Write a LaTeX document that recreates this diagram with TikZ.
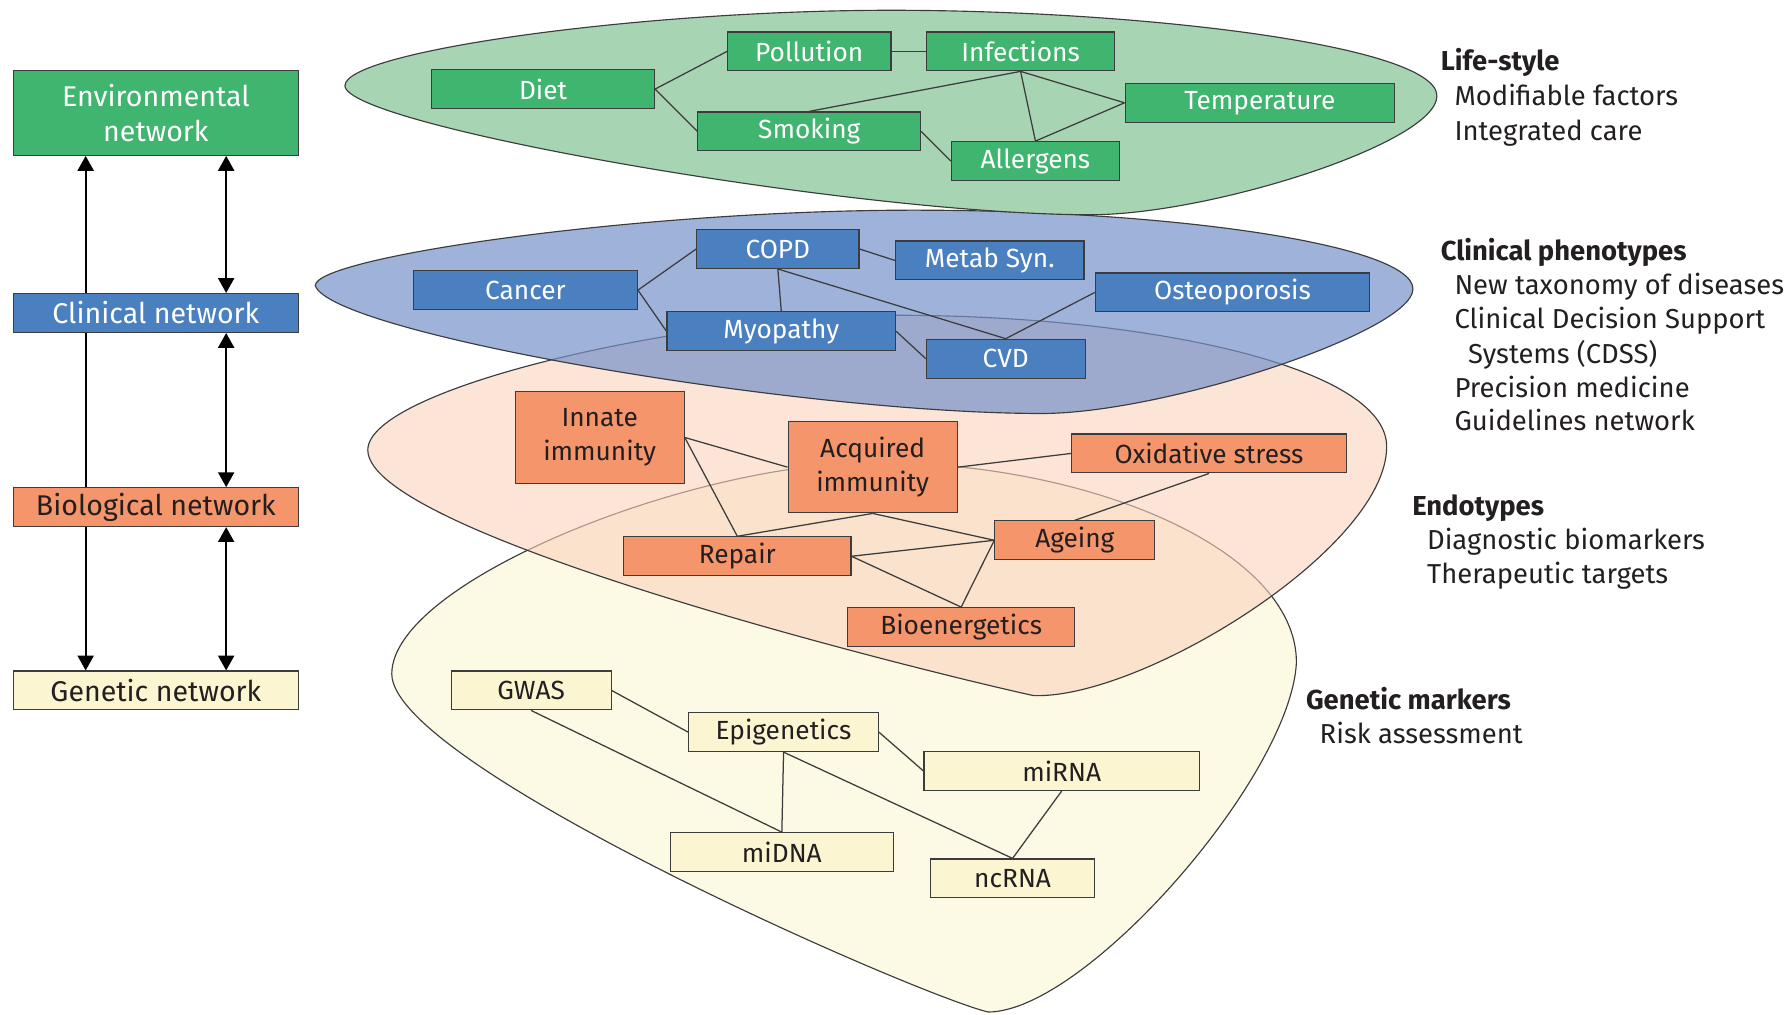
\documentclass[tikz,border=0pt]{standalone}
\usepackage{fontspec}
\setmainfont{Fira Sans}
\usetikzlibrary{arrows.meta,positioning,calc}
\definecolor{envG}{HTML}{3FB56F}
\definecolor{envGl}{HTML}{A7D5B3}
\definecolor{clinB}{HTML}{4A7FC0}
\definecolor{clinBl}{HTML}{7692C9}
\definecolor{bioO}{HTML}{F4956B}
\definecolor{bioOl}{HTML}{FAD4BC}
\definecolor{genY}{HTML}{FBF5D1}
\definecolor{genYl}{HTML}{FCF9E4}
\definecolor{edgeC}{HTML}{3C3C3C}
\definecolor{txtC}{HTML}{231F20}
\tikzset{
  netbox/.style={draw=edgeC,line width=0.5pt,inner sep=0pt,minimum height=17pt,
    font=\fontsize{11.5}{15}\selectfont,align=center},
  gbox/.style={netbox,fill=envG,text=white,minimum width=#1},
  bbox/.style={netbox,fill=clinB,text=white,minimum width=#1},
  obox/.style={netbox,fill=bioO,text=txtC,minimum width=#1},
  ybox/.style={netbox,fill=genY,text=txtC,minimum width=#1},
  layerbox/.style={draw=edgeC,line width=0.5pt,inner sep=0pt,minimum width=124.5pt,
    minimum height=17pt,font=\fontsize{12.5}{15}\selectfont,align=center},
  link/.style={edgeC,line width=0.55pt},
  blob/.style={draw=edgeC,line width=0.5pt},
  oneway/.style={line width=0.9pt,-{Triangle[length=6.5pt,width=7pt]}},
  twoway/.style={line width=0.9pt,{Triangle[length=6.5pt,width=7pt]}-{Triangle[length=6.5pt,width=7pt]}},
  sidetext/.style={anchor=base west,inner sep=0pt,text=txtC,font=\fontsize{12}{15}\selectfont}
}
\begin{document}
\begin{tikzpicture}[x=0.5pt,y=-0.5pt]
\useasboundingbox (0,0) rectangle (1568,888);
% layers
\draw[blob,fill=genYl] (343,590) .. controls (343,510) and (600,407) .. (760,405)
  .. controls (950,403) and (1135,480) .. (1135,580)
  .. controls (1130,680) and (950,886) .. (865,886)
  .. controls (800,870) and (343,670) .. cycle;
\draw[blob,fill=bioOl,fill opacity=0.6] (322,394) .. controls (322,340) and (600,276) .. (784,276)
  .. controls (1000,276) and (1214,320) .. (1214,391)
  .. controls (1214,480) and (1000,612) .. (905,609)
  .. controls (835,594) and (322,470) .. cycle;
\draw[blob,fill=clinBl,fill opacity=0.7] (276,250) .. controls (276,225) and (560,184) .. (800,184)
  .. controls (1030,184) and (1237,215) .. (1237,253)
  .. controls (1237,290) and (1020,362) .. (912,362)
  .. controls (700,362) and (290,292) .. cycle;
\draw[blob,fill=envGl] (302,75) .. controls (302,45) and (560,9) .. (780,9)
  .. controls (1000,9) and (1258,40) .. (1258,84)
  .. controls (1258,125) and (1060,188) .. (955,188)
  .. controls (750,188) and (302,110) .. cycle;
% left column
\node[layerbox,fill=envG,text=white,minimum height=37pt] (env) at (136.5,99) {Environmental\\network};
\node[layerbox,fill=clinB,text=white] (clin) at (136.5,274) {Clinical network};
\node[layerbox,fill=bioO,text=txtC] (bio) at (136.5,444) {Biological network};
\node[layerbox,fill=genY,text=txtC] (gen) at (136.5,604.5) {Genetic network};
\draw[oneway] ([xshift=-30.75pt]clin.north) -- ([xshift=-30.75pt]env.south);
\draw[line width=0.9pt] ([xshift=-30.75pt]clin.south) -- ([xshift=-30.75pt]bio.north);
\draw[oneway] ([xshift=-30.75pt]bio.south) -- ([xshift=-30.75pt]gen.north);
\foreach \a/\b in {env/clin,clin/bio,bio/gen}
  \draw[twoway] ([xshift=30.75pt]\a.south) -- ([xshift=30.75pt]\b.north);
% environmental network
\node[gbox=97.5pt] (diet) at (475.5,78) {Diet};
\node[gbox=71.5pt] (pollution) at (708.5,45) {Pollution};
\node[gbox=82.5pt] (infections) at (893.5,45) {Infections};
\node[gbox=118pt] (temperature) at (1103,90) {Temperature};
\node[gbox=97.5pt] (smoking) at (708.5,115) {Smoking};
\node[gbox=73.5pt] (allergens) at (906.5,141) {Allergens};
\draw[link] (diet.east) -- (pollution.west);
\draw[link] (diet.east) -- (smoking.west);
\draw[link] (pollution) -- (infections);
\draw[link] (infections.south) -- (smoking.north);
\draw[link] (infections.south) -- (temperature.west);
\draw[link] (infections.south) -- (allergens.north);
\draw[link] (allergens.north) -- (temperature.west);
\draw[link] (smoking.east) -- (allergens.west);
% clinical network
\node[bbox=98pt] (cancer) at (460,254) {Cancer};
\node[bbox=71pt] (copd) at (681,218) {COPD};
\node[bbox=82.5pt] (metab) at (866.5,228) {Metab Syn.};
\node[bbox=120pt] (osteo) at (1079,256) {Osteoporosis};
\node[bbox=100pt] (myopathy) at (684,290) {Myopathy};
\node[bbox=69.5pt] (cvd) at (880.5,314) {CVD};
\draw[link] (cancer.east) -- (copd.west);
\draw[link] (cancer.east) -- (myopathy.west);
\draw[link] (copd.east) -- (metab.west);
\draw[link] (copd.south) -- (myopathy.north);
\draw[link] (copd.south) -- (cvd.north);
\draw[link] (osteo.west) -- (cvd.north);
\draw[link] (myopathy.east) -- (cvd.west);
% biological network
\node[obox=74pt,minimum height=40pt] (innate) at (525,383) {Innate\\immunity};
\node[obox=74pt,minimum height=40pt] (acquired) at (764,409) {Acquired\\immunity};
\node[obox=120.5pt] (oxidative) at (1058.5,397) {Oxidative stress};
\node[obox=99.5pt] (repair) at (645.5,487) {Repair};
\node[obox=70pt] (ageing) at (941,473) {Ageing};
\node[obox=99.5pt] (bioener) at (841.5,549) {Bioenergetics};
\draw[link] (innate.east) -- (acquired.west);
\draw[link] (innate.east) -- (repair.north);
\draw[link] (acquired.east) -- (oxidative.west);
\draw[link] (acquired.south) -- (repair.north);
\draw[link] (acquired.south) -- (ageing.west);
\draw[link] (oxidative.south) -- (ageing.north);
\draw[link] (repair.east) -- (ageing.west);
\draw[link] (repair.east) -- (bioener.north);
\draw[link] (ageing.west) -- (bioener.north);
% genetic network
\node[ybox=70pt] (gwas) at (465,604.5) {GWAS};
\node[ybox=83pt] (epi) at (686,641) {Epigenetics};
\node[ybox=120.5pt] (mirna) at (929.5,675) {miRNA};
\node[ybox=97.5pt] (midna) at (684.5,746) {miDNA};
\node[ybox=71.5pt] (ncrna) at (886.5,769) {ncRNA};
\draw[link] (gwas.east) -- (epi.west);
\draw[link] (gwas.south) -- (midna.north);
\draw[link] (epi.south) -- (midna.north);
\draw[link] (epi.south) -- (ncrna.north);
\draw[link] (epi.east) -- (mirna.west);
\draw[link] (mirna.south) -- (ncrna.north);
% side notes
\foreach \x/\y/\f/\t [count=\i] in {1261/62/\bfseries/Life-style, 1273/92//Modifiable factors,
  1273/123//Integrated care, 1261/228/\bfseries/Clinical phenotypes, 1273/258//New taxonomy of diseases,
  1273/288//Clinical Decision Support, 1285/318//Systems (CDSS), 1273/348//Precision medicine,
  1273/377//Guidelines network, 1236/451/\bfseries/Endotypes, 1249/481//Diagnostic biomarkers,
  1249/511//Therapeutic targets, 1143/621/\bfseries/Genetic markers, 1155/651//Risk assessment}
  \node[sidetext] (note\i) at (\x,\y) {\f\t};
\end{tikzpicture}
\end{document}
